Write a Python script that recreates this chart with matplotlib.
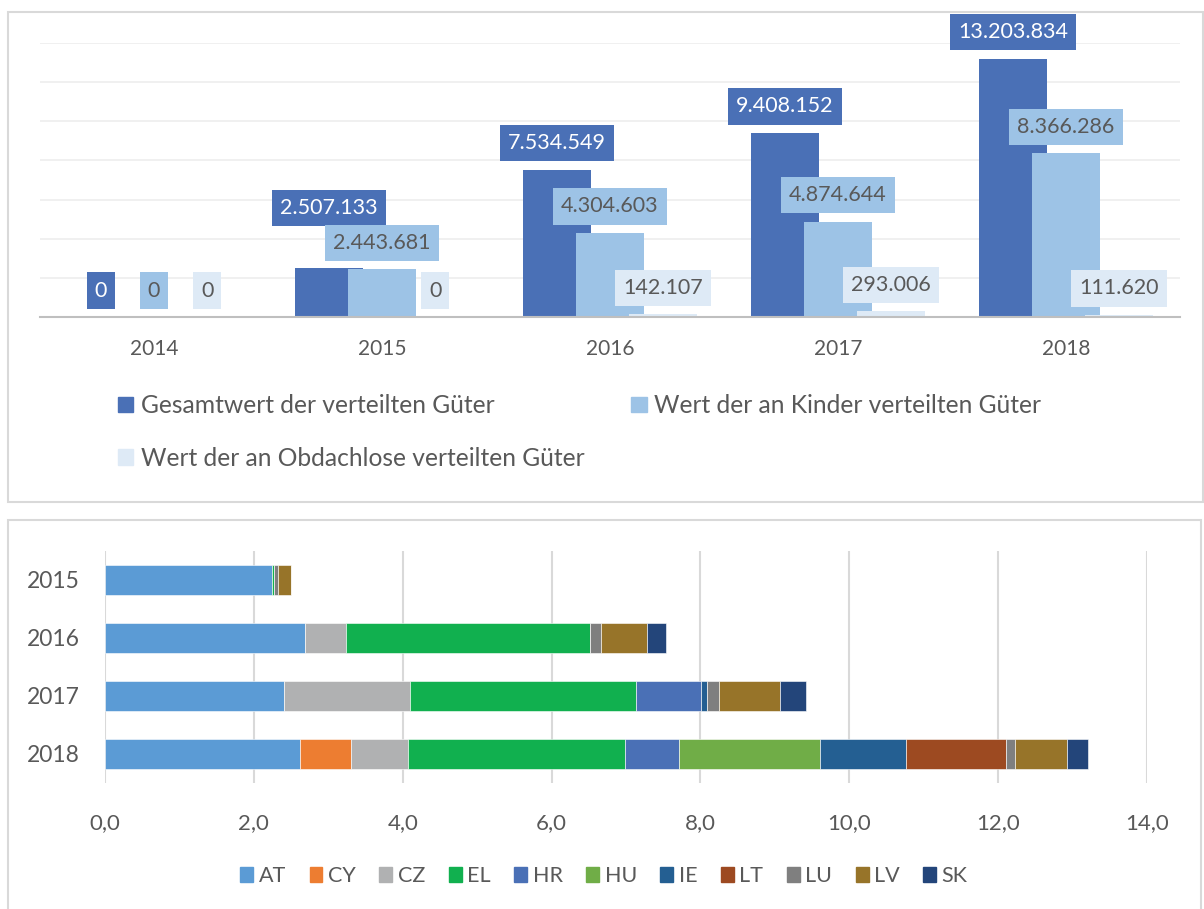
import matplotlib
matplotlib.use("Agg")
import matplotlib.pyplot as plt
from matplotlib.patches import Rectangle, Patch
import numpy as np

plt.rcParams['font.family'] = ['Lato', 'DejaVu Sans']

# ---------------- data ----------------
years_top = ['2014', '2015', '2016', '2017', '2018']
gesamt = [0, 2507133, 7534549, 9408152, 13203834]
kinder = [0, 2443681, 4304603, 4874644, 8366286]
obdachlose = [0, 0, 142107, 293006, 111620]
series_names = ['Gesamtwert der verteilten Güter',
                'Wert der an Kinder verteilten Güter',
                'Wert der an Obdachlose verteilten Güter']

years_bottom = ['2015', '2016', '2017', '2018']
countries = ['AT', 'CY', 'CZ', 'EL', 'HR', 'HU', 'IE', 'LT', 'LU', 'LV', 'SK']
AT = [2.246, 2.688, 2.406, 2.622]
CY = [0.0, 0.0, 0.0, 0.683]
CZ = [0.0, 0.546, 1.687, 0.768]
EL = [0.025, 3.282, 3.040, 2.920]
HR = [0.0, 0.0, 0.870, 0.721]
HU = [0.0, 0.0, 0.0, 1.888]
IE = [0.0, 0.0, 0.085, 1.161]
LT = [0.0, 0.0, 0.0, 1.342]
LU = [0.047, 0.153, 0.167, 0.117]
LV = [0.185, 0.608, 0.813, 0.707]
SK = [0.0, 0.257, 0.347, 0.284]
stack_values = [AT, CY, CZ, EL, HR, HU, IE, LT, LU, LV, SK]

# ---------------- styles ----------------
top_colors = ['#4A70B6', '#9DC3E6', '#DEEAF6']
label_text_colors = ['white', '#595959', '#595959']
country_colors = ['#5B9BD5', '#ED7D31', '#B0B1B2', '#11B04F', '#4A70B6',
                  '#70AD47', '#245F92', '#9D4A21', '#7F7F7F', '#977429', '#23457A']
grey_text = '#595959'

fig = plt.figure(figsize=(12.04, 9.09), dpi=100)

# frames
fig.add_artist(Rectangle((8/1204, 1-502/909), 1195/1204, 490/909, transform=fig.transFigure,
                         fill=False, ec='#D9D9D9', lw=1.5))
fig.add_artist(Rectangle((8/1204, -0.01), 1193/1204, 1-520/909+0.01, transform=fig.transFigure,
                         fill=False, ec='#D9D9D9', lw=1.5))

# ---------------- top chart ----------------
ax1 = fig.add_axes([40/1204, 1-317/909, 1140/1204, 274/909])
x = np.arange(len(years_top))
width = 0.30
offsets = [-0.233, 0.0, 0.233]
data_top = [gesamt, kinder, obdachlose]
for i, (vals, off) in enumerate(zip(data_top, offsets)):
    ax1.bar(x + off, vals, width, color=top_colors[i], zorder=2 + i * 0.1,
            label=series_names[i])
    for j, v in enumerate(vals):
        dy = 19
        if i == 0 and j == 1:
            dy = 43
        ax1.annotate(f"{v:,}".replace(',', '.'), xy=(x[j] + off, v), xytext=(0, dy),
                     textcoords='offset points', ha='center', va='center',
                     fontsize=15.5, color=label_text_colors[i], zorder=5,
                     annotation_clip=False,
                     bbox=dict(boxstyle='square,pad=0.38', fc=top_colors[i], ec='none'))
ax1.set_xlim(-0.5, 4.5)
ax1.set_ylim(0, 14e6)
ax1.set_yticks(np.arange(0, 14.1e6, 2e6))
ax1.yaxis.grid(True, color='#EDEDED', lw=1.2, zorder=0)
ax1.set_axisbelow(True)
ax1.tick_params(axis='y', left=False, labelleft=False)
ax1.set_xticks(x)
ax1.set_xticklabels(years_top, fontsize=15, color=grey_text)
ax1.tick_params(axis='x', length=0, pad=16)
for s in ['top', 'right', 'left']:
    ax1.spines[s].set_visible(False)
ax1.spines['bottom'].set_color('#BFBFBF')
ax1.spines['bottom'].set_linewidth(1.5)

handles = [Patch(color=c) for c in top_colors]
order = [0, 2, 1]  # row-major layout: two entries in first row, one in second
fig.legend([handles[k] for k in order], [series_names[k] for k in order], loc='upper left',
           bbox_to_anchor=(96/1204, 1-372/909), ncol=2, frameon=False,
           fontsize=17.75, labelcolor=grey_text, handlelength=0.62, handleheight=0.62,
           handletextpad=0.3, columnspacing=1.9, labelspacing=1.2)

# ---------------- bottom chart ----------------
ax2 = fig.add_axes([105/1204, 1-783/909, 1042/1204, 232/909])
y = np.arange(len(years_bottom))
left = np.zeros(len(years_bottom))
for vals, c, name in zip(stack_values, country_colors, countries):
    ax2.barh(y, vals, 0.53, left=left, color=c, label=name, zorder=3,
             edgecolor='white', linewidth=0.4)
    left += np.array(vals)
ax2.set_ylim(3.5, -0.5)
ax2.set_xlim(0, 14)
ax2.set_xticks(np.arange(0, 14.1, 2))
ax2.set_xticklabels([f"{v:.1f}".replace('.', ',') for v in np.arange(0, 14.1, 2)],
                    fontsize=16, color=grey_text)
ax2.set_yticks(y)
ax2.set_yticklabels(years_bottom, fontsize=16.5, color=grey_text)
ax2.tick_params(axis='both', length=0)
ax2.tick_params(axis='x', pad=22)
ax2.tick_params(axis='y', pad=18)
ax2.xaxis.grid(True, color='#D9D9D9', lw=1.5, zorder=0)
for s in ['top', 'right', 'bottom', 'left']:
    ax2.spines[s].set_visible(False)

h2 = [Patch(color=c) for c in country_colors]
fig.legend(h2, countries, loc='center', bbox_to_anchor=(604/1204, 1-876/909), ncol=11,
           frameon=False, fontsize=15.5, labelcolor=grey_text, handlelength=0.6,
           handleheight=0.75, handletextpad=0.25, columnspacing=1.1)

fig.savefig('out.png', dpi=100)
